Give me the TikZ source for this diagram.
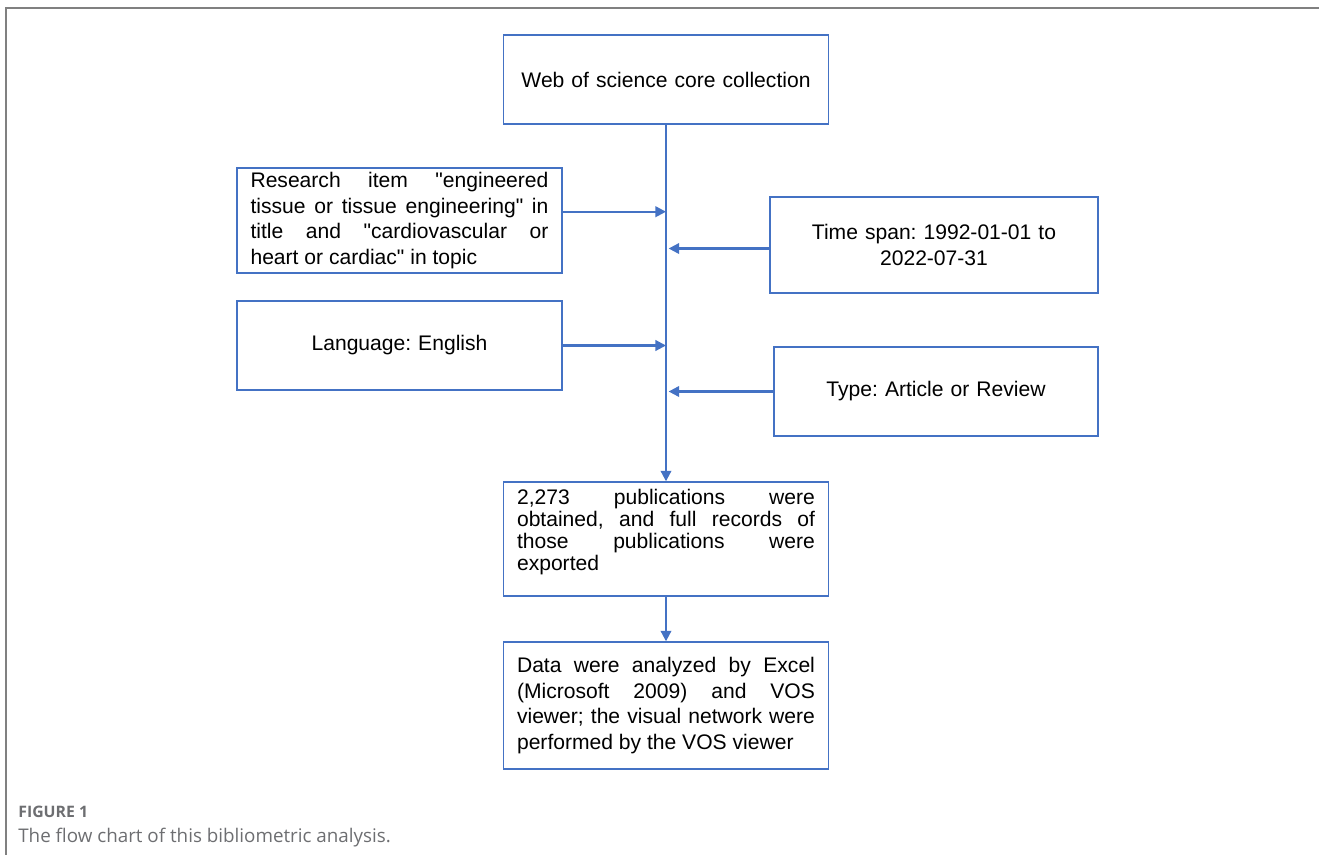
\documentclass[tikz,border=0pt]{standalone}
\usepackage{fontspec}
\setmainfont{Liberation Sans}
\newfontfamily\capfont{Open Sans}
\usetikzlibrary{arrows.meta,positioning}
\definecolor{boxblue}{HTML}{4472C4}
\definecolor{capgray}{HTML}{6D6E71}
\frenchspacing

\begin{document}
\begin{tikzpicture}[x=0.02cm,y=-0.02cm,>={Triangle[length=6pt,width=6pt]},
  box/.style={draw=boxblue,line width=0.8pt,minimum width=6.5cm,minimum height=#1,inner sep=0pt,
    text width=5.96cm,font=\fontsize{12}{14.7}\selectfont},
  flow/.style={->,draw=boxblue,fill=boxblue,line width=1.2pt}]
\useasboundingbox (0,0) rectangle (1319,855);
\draw[gray,line width=1pt] (1319,8)--(6,8)--(6,855);
\node[box=1.78cm,align=center] (web) at (666,79.5){Web of science core collection};
\node[box=2.1cm,align=justify] (res) at (399.5,220.5){Research item \textquotedbl engineered\linebreak tissue or tissue engineering\textquotedbl{} in\linebreak title and \textquotedbl cardiovascular or\linebreak heart or cardiac\textquotedbl{} in topic};
\node[box=1.92cm,minimum width=6.56cm,align=center] (time) at (934,245){Time span: 1992-01-01 to\\2022-07-31};
\node[box=1.78cm,align=center] (lang) at (399.5,345.5){Language: English};
\node[box=1.78cm,minimum width=6.48cm,align=center] (type) at (936,391.5){Type: Article or Review};
\node[box=2.28cm,align=justify,font=\fontsize{12}{12.6}\selectfont] (pub) at (666,539){2,273 publications were\linebreak obtained, and full records of\linebreak those publications were\linebreak exported\\[-2pt]\mbox{}};
\node[box=2.54cm,align=justify] (data) at (666,705.5){Data were analyzed by Excel\linebreak (Microsoft 2009) and VOS\linebreak viewer; the visual network were\linebreak performed by the VOS viewer};
\draw[flow] (web) -- (pub);
\draw[flow] (pub) -- (data);
\draw[flow] ([yshift=5pt]res.east) -- ([yshift=5pt]res.east -| web.south);
\draw[flow,shorten >=1.5pt] ([yshift=-2pt]time.west) -- ([yshift=-2pt]time.west -| web.south);
\draw[flow] (lang) -- (lang -| web.south);
\draw[flow,shorten >=1.5pt] (type) -- (type -| web.south);
\node[anchor=base west,inner sep=0pt,text=capgray,font=\capfont\bfseries\fontsize{9}{11}\selectfont] (fig) at (18,817){FIGURE 1};
\node[anchor=base west,inner sep=0pt,text=capgray,font=\capfont\fontsize{10.7}{13}\selectfont] (cap) at (18,842){The flow chart of this bibliometric analysis.};
\end{tikzpicture}
\end{document}
